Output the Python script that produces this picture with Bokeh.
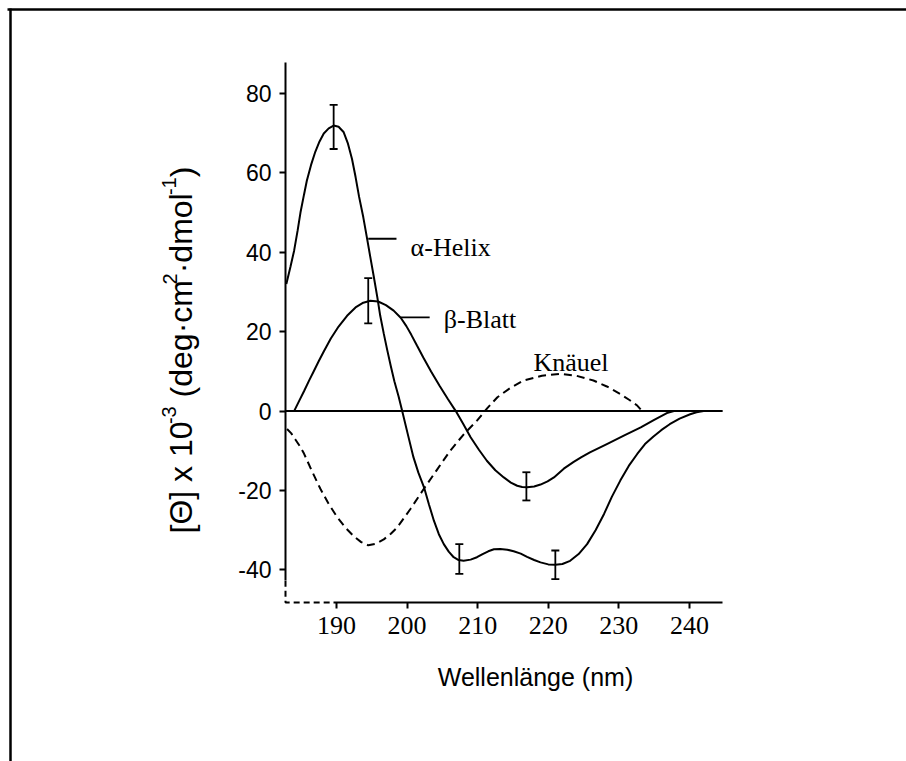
from bokeh.plotting import figure
from bokeh.models import Range1d, ColumnDataSource, Whisker, TeeHead, FixedTicker
from bokeh.embed import file_html
from bokeh.resources import INLINE
from bokeh.core.properties import value

# CD-Spektren der Sekundärstrukturen: Wellenlänge (nm) und [Θ] x 10^-3
helix_nm = [182.9, 183.5, 184.0, 184.5, 184.9, 185.4, 185.8, 186.4, 187.0, 187.6,
            188.2, 188.9, 189.6, 190.3, 191.0, 191.6, 192.2, 192.7, 193.2, 193.8,
            194.3, 194.8, 195.3, 195.8, 196.2, 196.7, 197.2, 197.7, 198.2, 198.8,
            199.3, 200.1, 200.9, 201.6, 202.4, 203.1, 203.8, 204.5, 205.2, 205.9,
            206.6, 207.3, 208.0, 209.0, 209.9, 210.7, 211.5, 212.3, 213.2, 214.2,
            215.1, 216.1, 217.0, 218.0, 218.9, 220.0, 221.0, 222.0, 223.1, 224.3,
            225.5, 226.7, 227.9, 229.0, 230.2, 231.4, 232.6, 233.7, 234.9, 236.0,
            237.2, 238.6, 240.1, 241.0, 242.0]
helix_theta = [32.0, 36.5, 40.4, 45.5, 50.0, 54.5, 58.0, 62.0, 65.3, 67.9,
               69.9, 71.2, 71.9, 71.6, 70.3, 67.5, 63.5, 59.0, 54.0, 48.8,
               43.8, 38.7, 33.7, 28.5, 24.0, 19.5, 15.3, 11.3, 7.5, 3.7,
               0.1, -5.8, -11.6, -15.5, -19.2, -23.5, -27.6, -31.0, -33.5, -35.4,
               -36.8, -37.5, -37.7, -37.4, -36.8, -36.0, -35.3, -34.8, -34.7, -34.9,
               -35.3, -35.9, -36.7, -37.5, -38.1, -38.6, -38.7, -38.5, -37.7, -36.0,
               -33.5, -30.0, -25.9, -21.6, -17.5, -13.8, -10.8, -8.3, -6.4, -4.8,
               -3.3, -1.9, -0.8, -0.3, 0.0]

beta_nm = [184.0, 184.7, 185.4, 186.1, 186.8, 187.5, 188.2, 189.2, 190.3, 191.5,
           192.7, 193.8, 194.8, 195.9, 197.0, 198.1, 199.1, 199.9, 200.6, 201.4,
           202.3, 203.4, 204.6, 205.8, 206.9, 208.0, 209.0, 210.2, 211.3, 212.5,
           213.7, 214.7, 215.6, 216.3, 217.0, 218.0, 218.9, 219.9, 220.8, 222.2,
           223.6, 224.7, 225.9, 228.3, 230.7, 233.1, 235.0, 236.8, 237.8]
beta_theta = [0.0, 2.5, 5.0, 7.6, 10.1, 12.6, 15.0, 18.3, 21.3, 24.0,
              26.1, 27.3, 27.8, 27.6, 26.7, 25.3, 23.5, 21.4, 19.2, 16.5,
              13.5, 10.0, 6.4, 3.0, 0.0, -3.4, -6.6, -9.8, -12.5, -14.9,
              -16.7, -18.0, -18.8, -19.1, -19.2, -19.0, -18.5, -17.7, -16.7, -14.5,
              -12.8, -11.6, -10.4, -8.3, -6.2, -4.1, -2.2, -0.5, 0.0]

coil_nm = [183.0, 183.6, 184.2, 184.8, 185.4, 186.5, 187.7, 188.9, 190.1, 191.3,
           192.5, 193.5, 194.5, 195.6, 196.7, 197.7, 198.6, 200.5, 202.4, 204.3,
           206.1, 208.0, 209.9, 211.4, 212.8, 214.6, 216.5, 219.1, 221.7, 224.0,
           226.4, 228.3, 230.2, 231.5, 232.6, 233.3]
coil_theta = [-4.5, -5.6, -7.2, -8.8, -10.7, -15.0, -19.5, -23.4, -26.7, -29.4,
              -31.6, -33.0, -33.8, -33.4, -32.3, -30.9, -29.3, -24.6, -19.5, -14.6,
              -10.0, -5.9, -2.4, 0.8, 3.5, 5.8, 7.7, 8.9, 9.4, 8.9,
              7.7, 6.2, 4.3, 2.8, 1.4, 0.0]

# Fehlerbalken
err_nm = [189.6, 207.4, 221.0, 194.5, 216.9]
err_lower = [66.0, -41.0, -42.3, 22.1, -22.5]
err_upper = [77.1, -33.5, -35.1, 33.5, -15.4]

x_ticks = [190, 200, 210, 220, 230, 240]
y_ticks = [-40, -20, 0, 20, 40, 60, 80]
y_tick_labels = ["-40", "-20", "0", "20", "40", "60", "80"]

W, H = 906, 761
LEFT, RIGHT_PAD, BOTTOM = 285, 121, 159
KX = 7.06                      # px per nm
X0 = 182.78
X1 = X0 + (W - LEFT - RIGHT_PAD) / KX
Y0, Y1 = -48.2, 103.4
KY = (H - BOTTOM) / (Y1 - Y0)  # px per unit


def to_x(px):
    return X0 + (px - LEFT) / KX


def to_y(py):
    return Y1 - py / KY


p = figure(width=W, height=H, output_backend="svg", toolbar_location=None,
           x_range=Range1d(X0, X1), y_range=Range1d(Y0, Y1),
           min_border_left=LEFT, min_border_right=RIGHT_PAD, min_border_top=0,
           min_border_bottom=BOTTOM)
p.outline_line_color = None
p.grid.visible = False
p.background_fill_color = "white"
p.border_fill_color = "white"

ax = p.xaxis[0]
ax.ticker = FixedTicker(ticks=x_ticks)
ax.bounds = (189.6, 244.7)
ax.axis_line_width = 2
ax.major_tick_line_width = 2
ax.major_tick_out = 6
ax.major_tick_in = 0
ax.minor_tick_line_color = None
ax.major_label_text_font = "Liberation Serif"
ax.major_label_text_font_size = "26px"
ax.major_label_text_color = "black"
ax.major_label_standoff = 8
ax.axis_label = "Wellenlänge (nm)"
ax.axis_label_text_font = "Liberation Sans"
ax.axis_label_text_font_size = "25px"
ax.axis_label_text_font_style = "normal"
ax.axis_label_text_color = "black"
ax.axis_label_standoff = 26

ay = p.yaxis[0]
ay.ticker = FixedTicker(ticks=y_ticks)
ay.major_label_overrides = {t: s for t, s in zip(y_ticks, y_tick_labels)}
ay.bounds = (-42.7, 87.8)
ay.axis_line_width = 2
ay.major_tick_line_width = 2
ay.major_tick_out = 6
ay.major_tick_in = 0
ay.minor_tick_line_color = None
ay.major_label_text_font = "Liberation Sans"
ay.major_label_text_font_size = "23px"
ay.major_label_text_color = "black"
ay.major_label_standoff = 8

# Achsentitel links, senkrecht, mit Hochstellungen
# (Text, Schriftgröße, hochgestellt, Vorschub davor in em)
title_parts = [("[Θ] x 10", 32, False, 0.0), ("-3", 20, True, 0.0),
               ("(deg·cm", 32, False, 0.278), ("2", 20, True, 0.0),
               ("·dmol", 32, False, 0.0), ("-1", 20, True, 0.0),
               (")", 32, False, 0.0)]
em_width = {"[Θ] x 10": 3.42, "-3": 0.889, "(deg·cm": 3.53, "2": 0.556,
            "·dmol": 2.445, "-1": 0.889, ")": 0.333}
tx, ty, tt, ts = [], [], [], []
py = 533.0
for txt, size, sup, gap in title_parts:
    py -= gap * size
    tx.append(to_x(169.0 if sup else 181.0))
    ty.append(to_y(py))
    tt.append(txt)
    ts.append(f"{size}px")
    py -= em_width[txt] * size
p.text(x=tx, y=ty, text=tt, text_font_size=ts, angle=1.5708,
       text_font=value("Liberation Sans"), text_color="black",
       text_align="left", text_baseline="alphabetic", level="overlay")

# Nulllinie
p.line([X0, 244.7], [0, 0], line_color="black", line_width=2)

# gestrichelte Ecke unten links
p.line([X0, X0, 189.6], [-42.7, Y0, Y0], line_color="black", line_width=2,
       line_dash="6 4", level="overlay")

# Kurven
p.line(helix_nm, helix_theta, line_color="black", line_width=2)
p.line(beta_nm, beta_theta, line_color="black", line_width=2)
p.line(coil_nm, coil_theta, line_color="black", line_width=2, line_dash="8 5")

# Fehlerbalken
err_src = ColumnDataSource(dict(x=err_nm, lower=err_lower, upper=err_upper))
p.add_layout(Whisker(base="x", lower="lower", upper="upper", source=err_src,
                     line_width=1.8, line_color="black",
                     upper_head=TeeHead(size=8, line_width=1.8, line_color="black"),
                     lower_head=TeeHead(size=8, line_width=1.8, line_color="black")))

# Beschriftungen
p.segment([194.5, 199.1], [43.4, 23.6], [198.5, 203.2], [43.4, 23.6],
          line_color="black", line_width=1.8)
p.text(x=[200.5, 205.2, 217.9], y=[41.3, 23.0, 12.2],
       text=["α-Helix", "β-Blatt", "Knäuel"],
       text_font=value("Liberation Serif"), text_font_size="26px",
       text_color="black", text_baseline="alphabetic", text_align="left")

# Rahmen oben und links
p.line([to_x(7), to_x(W + 5)], [to_y(9), to_y(9)], line_color="black",
       line_width=2.5, level="overlay")
p.line([to_x(10), to_x(10)], [to_y(8), to_y(H + 10)], line_color="black",
       line_width=2.5, level="overlay")

open("out.html", "w").write(file_html(p, INLINE))
